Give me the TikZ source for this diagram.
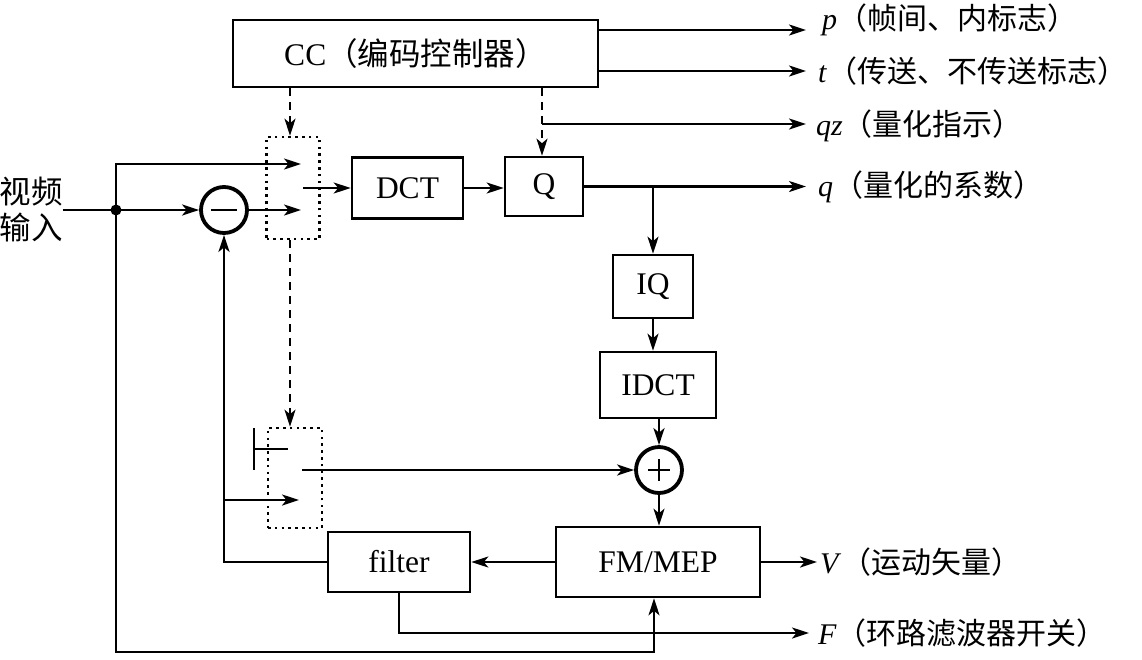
\documentclass[tikz,border=0pt]{standalone}
\usepackage{fontspec}
\setmainfont{Liberation Serif}
\newfontfamily\cjk{Noto Sans CJK SC}
\usetikzlibrary{arrows.meta}
\begin{document}
\begin{tikzpicture}[x=1pt,y=-1pt,
  font=\fontsize{31.5}{37}\selectfont,
  box/.style={draw,line width=2.6pt,inner sep=0pt},
  swbox/.style={draw,line width=2.6pt,dash pattern=on 2.6pt off 4.2pt,inner sep=0pt},
  sumc/.style={draw,circle,line width=3.8pt,minimum size=46pt,inner sep=0pt},
  ln/.style={line width=2.4pt},
  arr/.style={line width=2.4pt,-{Stealth[length=17pt,width=11pt,inset=4.5pt]}},
  dsh/.style={line width=2.4pt,dash pattern=on 8pt off 6pt,-{Stealth[length=17pt,width=11pt,inset=4.5pt]}},
  lbl/.style={anchor=west,inner sep=0pt,font=\fontsize{30}{36}\selectfont}]
\useasboundingbox (0,0) rectangle (1142,659);

% blocks
\node[box,minimum width=365pt,minimum height=67pt] (cc) at (415.5,53.5) {CC{\cjk （编码控制器）}};
\node[swbox,minimum width=53pt,minimum height=102pt] (sw1) at (293,188) {};
\node[swbox,minimum width=54pt,minimum height=100pt] (sw2) at (295,478) {};
\node[box,minimum width=111pt,minimum height=61pt] (dct) at (407.5,188) {DCT};
\node[box,minimum width=78pt,minimum height=59pt] (q) at (544,186.5) {Q};
\node[box,minimum width=80pt,minimum height=63pt] (iq) at (653,286.5) {IQ};
\node[box,minimum width=116pt,minimum height=66pt] (idct) at (658,385) {IDCT};
\node[sumc] (plus) at (659,470) {};
\node[box,minimum width=204pt,minimum height=70pt] (fm) at (658,562) {FM/MEP};
\node[box,minimum width=142pt,minimum height=60pt] (filter) at (399,562) {filter};
\node[sumc] (minus) at (224,210) {};
\draw[line width=2.8pt] ([xshift=-13pt]minus.center) -- ([xshift=13pt]minus.center);
\draw[line width=2.4pt] ([xshift=-11pt]plus.center) -- ([xshift=11pt]plus.center);
\draw[line width=2.4pt] ([yshift=-11pt]plus.center) -- ([yshift=11pt]plus.center);

\node[align=center,inner sep=0pt,font=\fontsize{31.5}{36}\cjk] (inp) at (31,209) {视频\\输入};

% labels
\node[lbl] (pl) at (822,20) {\textit{p}{\cjk （帧间、内标志）}};
\node[lbl] (tl) at (818,71) {\textit{t}{\cjk （传送、不传送标志）}};
\node[lbl] (qzl) at (816,126) {\textit{qz}{\cjk （量化指示）}};
\node[lbl] (ql) at (818,187) {\textit{q}{\cjk （量化的系数）}};
\node[lbl] (vl) at (820,562) {\textit{V}{\cjk （运动矢量）}};
\node[lbl] (fl) at (818,633) {\textit{F}{\cjk （环路滤波器开关）}};

% coordinates
\coordinate (dot) at (116,210);
\coordinate (s1a) at (301,164);
\coordinate (s1b) at (301,210);
\coordinate (s1o) at (303,188);
\coordinate (s2o) at (302,470);
\coordinate (s2b) at (299,500);
\coordinate (gtop) at (254,428);
\coordinate (gbot) at (254,470);
\coordinate (gmid) at (254,449);
\coordinate (gend) at (288,449);
\coordinate (pend) at (806,30);
\coordinate (tend) at (806,71);
\coordinate (qzend) at (806,124);
\coordinate (qend) at (806,186.5);
\coordinate (vend) at (817,562);
\coordinate (fend) at (809,633);
\coordinate (bot) at (116,652);
\coordinate (fmin) at ([xshift=-4pt]fm.south);

% connectors
\draw[arr] (cc.east |- pend) -- (pend);
\draw[arr] (cc.east |- tend) -- (tend);
\draw[dsh] ([xshift=-3pt]sw1.north |- cc.south) -- ([xshift=-3pt]sw1.north);
\draw[dsh] ([xshift=-2pt]q.north |- cc.south) -- ([xshift=-2pt]q.north);
\draw[arr] ([xshift=-2pt]q.north |- qzend) -- (qzend);
\draw[ln] (inp.east |- dot) -- (dot);
\draw[arr] (dot) |- (s1a);
\draw[arr] (dot) -- (minus.west);
\draw[arr] (minus.east) -- (s1b);
\draw[arr] (s1o) -- (dct.west |- s1o);
\draw[arr] (dct.east) -- (q.west |- dct.east);
\draw[arr] (q.east) -- (q.east -| qend);
\draw[arr] (iq.north |- q.east) -- (iq.north);
\draw[arr] (iq.south) -- (iq.south |- idct.north);
\draw[arr] (plus.north |- idct.south) -- (plus.north);
\draw[arr] (plus.south) -- (plus.south |- fm.north);
\draw[arr] (fm.east) -- (vend);
\draw[arr] (fm.west) -- (filter.east);
\draw[arr] (filter.west) -| (minus.south);
\draw[arr] (minus.south |- s2b) -- (s2b);
\draw[arr] (s2o) -- (plus.west);
\draw[arr] (filter.south) |- (fend);
\draw[arr] (dot) -- (bot) -| (fmin);
\draw[dsh] ([xshift=-3pt]sw1.south) -- ([xshift=-5pt]sw2.north);
\draw[ln] (gtop) -- (gbot);
\draw[ln] (gmid) -- (gend);
\fill (dot) circle (5.5pt);
\end{tikzpicture}
\end{document}
